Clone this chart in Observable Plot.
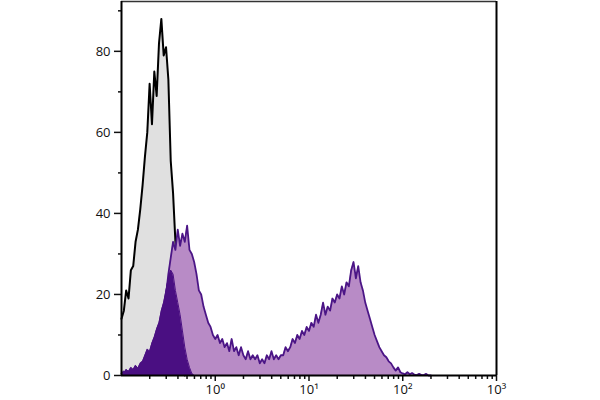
<!DOCTYPE html>
<html><head><meta charset="utf-8">
<script src="https://cdn.jsdelivr.net/npm/d3@7"></script>
<script src="https://cdn.jsdelivr.net/npm/@observablehq/plot@0.6"></script>
<style>body{margin:0;background:#fff}</style>
</head><body><div id="chart"></div>
<script>
// log10 fluorescence intensity of each histogram channel
const logIntensity = [
  -1.000,-0.975,-0.950,-0.925,-0.900,-0.875,-0.850,-0.825,-0.800,-0.775,
  -0.750,-0.725,-0.700,-0.675,-0.650,-0.625,-0.600,-0.575,-0.550,-0.525,
  -0.500,-0.475,-0.450,-0.425,-0.400,-0.375,-0.350,-0.325,-0.300,-0.275,
  -0.250,-0.225,-0.200,-0.175,-0.150,-0.125,-0.100,-0.075,-0.050,-0.025,
   0.000, 0.025, 0.050, 0.075, 0.100, 0.125, 0.150, 0.175, 0.200, 0.225,
   0.250, 0.275, 0.300, 0.325, 0.350, 0.375, 0.400, 0.425, 0.450, 0.475,
   0.500, 0.525, 0.550, 0.575, 0.600, 0.625, 0.650, 0.675, 0.700, 0.725,
   0.750, 0.775, 0.800, 0.825, 0.850, 0.875, 0.900, 0.925, 0.950, 0.975,
   1.000, 1.025, 1.050, 1.075, 1.100, 1.125, 1.150, 1.175, 1.200, 1.225,
   1.250, 1.275, 1.300, 1.325, 1.350, 1.375, 1.400, 1.425, 1.450, 1.475,
   1.500, 1.525, 1.550, 1.575, 1.600, 1.625, 1.650, 1.675, 1.700, 1.725,
   1.750, 1.775, 1.800, 1.825, 1.850, 1.875, 1.900, 1.925, 1.950, 1.975,
   2.000, 2.025, 2.050, 2.075, 2.100, 2.125, 2.150, 2.175, 2.200, 2.225,
   2.250, 2.275, 2.300
];
// control (grey, black outline)
const controlCounts = [
  14,16,21,19,26,27,33,36,41,47,
  54,60,72,62,75,69,82,88,79,81,
  73,53,45,33,24,10,2,0
];
// dark purple population
const lowCounts = [
  0,0.5,1.5,1,2,1.5,2.5,1.8,3,3.5,
  5,6.5,6,8,9.5,11.5,13,16,18,21,
  24,26,25,21,18,15,11,7,4,2,
  0.5,0
];
// light purple stained population
const stainedCounts = [
  0.5,1,0.5,1,0.8,0.5,1,0.6,1,1.2,
  1.5,2,2.5,3.5,5,7,9,12,16,20,
  25,29,33,31,36,32,35,33,37,31,
  30,28,25,21,20,17,15,13,12,10,
  9,10,8,9,7,8,6,9,6,7,
  5,7,5,4,6,4,5,4,5,3,
  4,3,5,4,6,4,5,4,5,5,
  7,6,7,9,8,10,9,11,10,12,
  11,13,12,15,13,15,18,15,17,16,
  19,18,20,19,22,20,23,22,26,28,
  24,27,23,21,18,16,14,12,10,8.5,
  7,6,5,4.5,3.5,3,2,1.2,2,0.8,
  0.5,0.3,0.8,0.3,0.6,0.2,0.1,0.4,0.1,0.1,
  0.4,0,0
];
const yMajorTicks = [0,20,40,60,80];
const yMinorTicks = [10,30,50,70,90];
const xMajorTicks = [1,10,100,1000];
const xMajorLabels = ["10\u2070","10\u00b9","10\u00b2","10\u00b3"];
const xMinorTicks = [0.2,0.3,0.4,0.5,0.6,0.7,0.8,0.9,
                     2,3,4,5,6,7,8,9,
                     20,30,40,50,60,70,80,90,
                     200,300,400,500,600,700,800,900];

const rows = counts => counts.map((c, i) => ({x: Math.pow(10, logIntensity[i]), y: c}));
const control = rows(controlCounts), low = rows(lowCounts), stained = rows(stainedCounts);
const yMax = 92.3;

const chart = Plot.plot({
  width: 600, height: 400,
  marginLeft: 121, marginRight: 104, marginTop: 1, marginBottom: 25,
  x: {type: "log", domain: [0.1, 1000], label: null},
  y: {domain: [0, yMax], label: null},
  style: {fontFamily: "'Open Sans', sans-serif", fontSize: "13px", color: "#111", background: "#fff"},
  marks: [
    Plot.areaY(control, {x: "x", y: "y", fill: "#e0e0e0"}),
    Plot.lineY(control, {x: "x", y: "y", stroke: "#000", strokeWidth: 2}),
    Plot.areaY(stained, {x: "x", y: "y", fill: "#b88bc6"}),
    Plot.lineY(stained, {x: "x", y: "y", stroke: "#4b1586", strokeWidth: 1.8}),
    Plot.areaY(low, {x: "x", y: "y", fill: "#4a0f82"}),
    Plot.lineY(low, {x: "x", y: "y", stroke: "#4a0f82", strokeWidth: 1}),
    Plot.ruleY([yMax], {stroke: "#333", strokeWidth: 1.5}),
    Plot.ruleX([1000], {stroke: "#000", strokeWidth: 2}),
    Plot.axisY({ticks: yMajorTicks, tickSize: 7, tickPadding: 4, strokeWidth: 1.5, label: null}),
    Plot.axisY({ticks: yMinorTicks, tickSize: 3, tickFormat: () => "", strokeWidth: 1.5, label: null}),
    Plot.axisX({ticks: xMajorTicks, tickSize: 6, tickPadding: 3, strokeWidth: 1.5,
                tickFormat: d => xMajorLabels[xMajorTicks.indexOf(d)], label: null}),
    Plot.axisX({ticks: xMinorTicks, tickSize: 4, tickFormat: () => "", strokeWidth: 1.5, label: null}),
    Plot.ruleY([0], {stroke: "#000", strokeWidth: 2}),
    Plot.ruleX([0.1], {stroke: "#000", strokeWidth: 2})
  ]
});
document.getElementById("chart").append(chart);
</script>
</body></html>
